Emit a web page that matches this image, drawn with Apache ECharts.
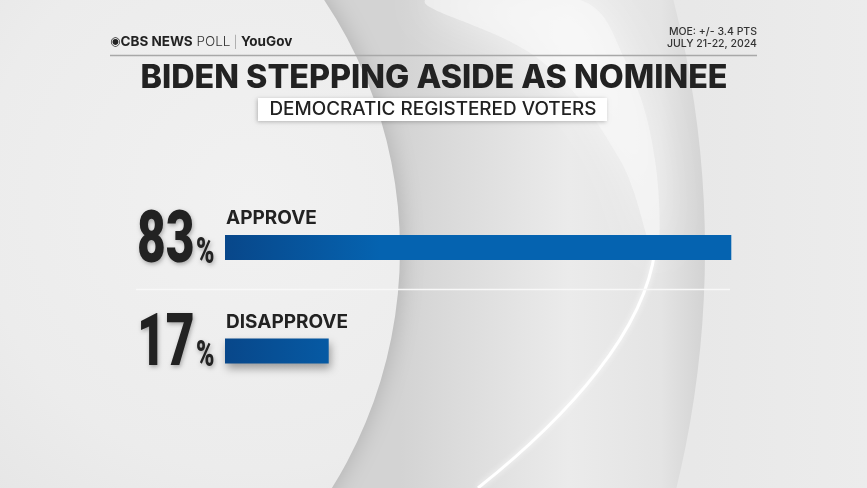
<!DOCTYPE html>
<html>
<head>
<meta charset="utf-8">
<script src="https://cdn.jsdelivr.net/npm/echarts@6/dist/echarts.min.js"></script>
<style>
html,body{margin:0;padding:0;background:#e9e9e9;}
#chart{width:867px;height:488px;}
</style>
</head>
<body>
<div id="chart"></div>
<script>
// ---- data ----
const categories = ['APPROVE', 'DISAPPROVE'];
const values = [83, 17];
const titleText = 'BIDEN STEPPING ASIDE AS NOMINEE';
const subtitleText = 'DEMOCRATIC REGISTERED VOTERS';
const moeLines = ['MOE: +/- 3.4 PTS', 'JULY 21-22, 2024'];

const chart = echarts.init(document.getElementById('chart'), null, {renderer: 'canvas'});

const bgElements = [
  {type: 'rect', z: -100, shape: {x: 0, y: 0, width: 867, height: 488},
   style: {fill: new echarts.graphic.LinearGradient(0, 0, 1, 0, [
     {offset: 0, color: '#e4e4e4'}, {offset: 0.8, color: '#e8e8e8'}, {offset: 1, color: '#ececec'}])}},
  // outer ring
  {type: 'circle', z: -99, shape: {cx: -300, cy: 250, r: 1005},
   style: {fill: new echarts.graphic.LinearGradient(400, 0, 707, 0, [
     {offset: 0, color: '#d3d3d3'}, {offset: 0.25, color: '#dedede'}, {offset: 0.55, color: '#ebebeb'},
     {offset: 0.85, color: '#e4e4e4'}, {offset: 1, color: '#d2d2d2'}], true)}},
  // upper light band
  {type: 'polygon', z: -98, shape: {points: [[425, 0], [540, 60], [620, 160], [655, 255], [655, 160], [625, 60], [580, 0]], smooth: 0.4},
   style: {fill: 'rgba(248,248,248,0.6)', shadowBlur: 40, shadowColor: 'rgba(255,255,255,0.9)'}},
  // bright edge line
  {type: 'bezierCurve', z: -97, shape: {x1: 655, y1: 250, cpx1: 645, cpy1: 330, cpx2: 570, cpy2: 415, x2: 478, y2: 488},
   style: {fill: null, stroke: '#ffffff', lineWidth: 3, shadowBlur: 6, shadowColor: 'rgba(255,255,255,0.9)'}},
  // left disc
  {type: 'circle', z: -96, shape: {cx: -50, cy: 250, r: 450},
   style: {fill: new echarts.graphic.RadialGradient(250, 200, 450, [
     {offset: 0, color: '#f1f1f1'}, {offset: 0.6, color: '#ececec'}, {offset: 1, color: '#e3e3e3'}], true),
     shadowBlur: 25, shadowColor: 'rgba(0,0,0,0.18)'}}
];

const headerElements = [
  {type: 'line', shape: {x1: 110, y1: 55.5, x2: 757, y2: 55.5}, style: {stroke: '#a8a8a8', lineWidth: 1.5}},
  {type: 'text', x: 110, y: 42, style: {
    text: '{eye|◉}{cbs|CBS NEWS}{poll| POLL}{bar| | }{yg|YouGov}',
    verticalAlign: 'middle',
    rich: {
      eye: {font: 'bold 12px "DejaVu Sans"', fill: '#222'},
      cbs: {font: 'bold 13.5px Inter', fill: '#222'},
      poll: {font: '300 13.5px Inter', fill: '#333'},
      bar: {font: '300 12px Inter', fill: '#999'},
      yg: {font: 'bold 13.5px Inter', fill: '#222'}
    }}},
  {type: 'text', x: 757, y: 32, style: {text: moeLines[0], align: 'right', verticalAlign: 'middle', font: '500 10.5px Inter', fill: '#333'}},
  {type: 'text', x: 757, y: 44, style: {text: moeLines[1], align: 'right', verticalAlign: 'middle', font: '500 10.5px Inter', fill: '#333'}},
  {type: 'text', x: 434, y: 78, scaleX: 1.01, style: {text: titleText, align: 'center', verticalAlign: 'middle', font: '800 32px Inter', fill: '#222'}},
  {type: 'rect', shape: {x: 258, y: 98, width: 349, height: 23},
   style: {fill: '#ffffff', shadowBlur: 4, shadowColor: 'rgba(0,0,0,0.25)', shadowOffsetX: -1, shadowOffsetY: 1}},
  {type: 'text', x: 433, y: 110, scaleX: 1.05, style: {text: subtitleText, align: 'center', verticalAlign: 'middle', font: '500 18px Inter', fill: '#222'}},
  {type: 'line', shape: {x1: 136, y1: 289.5, x2: 730, y2: 289.5}, style: {stroke: '#f8f8f8', lineWidth: 1.5}}
];

chart.setOption({
  animation: false,
  backgroundColor: 'transparent',
  grid: {left: 225, right: 32, top: 195.75, height: 207},
  xAxis: {type: 'value', min: 0, max: 100, show: false},
  yAxis: {type: 'category', data: categories, inverse: true, show: false},
  series: [{
    type: 'bar',
    data: values,
    barWidth: 25,
    itemStyle: {
      color: new echarts.graphic.LinearGradient(225, 0, 380, 0, [
        {offset: 0, color: '#08478a'}, {offset: 1, color: '#0563b0'}], true),
      shadowColor: 'rgba(0,0,0,0.35)', shadowBlur: 8, shadowOffsetY: 5, shadowOffsetX: 2
    }
  }],
  graphic: {elements: bgElements.concat(headerElements)}
});

// labels derived from data through the axes
const labelEls = [];
categories.forEach(function (cat, i) {
  const p0 = chart.convertToPixel({gridIndex: 0}, [0, cat]);
  labelEls.push({type: 'text', x: p0[0] + 1, y: p0[1] - 29, style: {
    text: cat, align: 'left', verticalAlign: 'middle', font: 'bold 19px Inter', fill: '#222'}});
  labelEls.push({type: 'text', x: p0[0] - 88, y: p0[1] - 4, scaleX: 0.69,
    style: {
      text: '{n|' + values[i] + '}{p|%}',
      align: 'left', verticalAlign: 'middle',
      textShadowBlur: 4, textShadowColor: 'rgba(0,0,0,0.3)', textShadowOffsetX: 1, textShadowOffsetY: 2,
      rich: {
        n: {font: '900 72px Roboto', fill: '#222', lineHeight: 72},
        p: {font: '900 36px Roboto', fill: '#222', lineHeight: 36, verticalAlign: 'bottom', padding: [0, 0, 8, 2]}
      }
    }});
});
chart.setOption({graphic: {elements: bgElements.concat(headerElements, labelEls)}});
</script>
</body>
</html>
